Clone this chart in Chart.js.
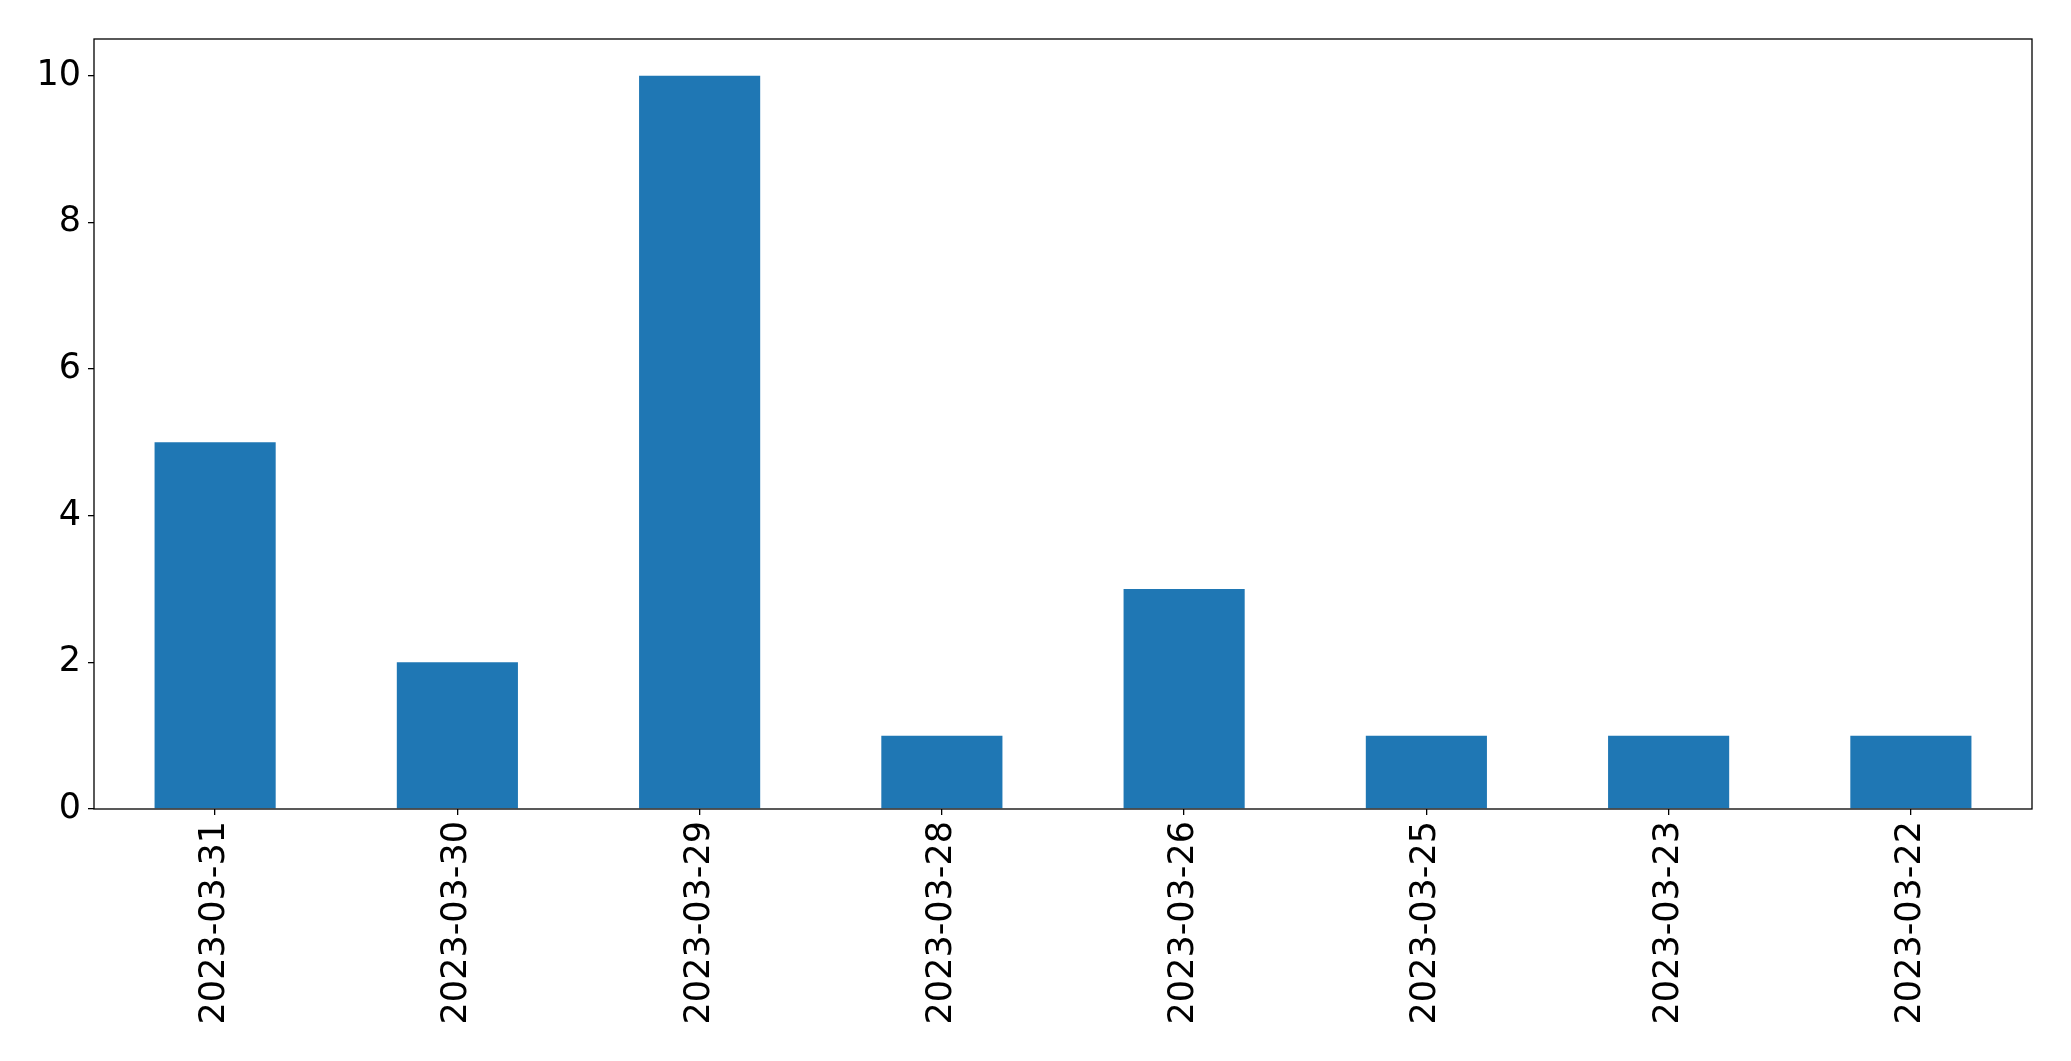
<!DOCTYPE html>
<html>
<head>
<meta charset="utf-8">
<script src="https://cdn.jsdelivr.net/npm/chart.js@4"></script>
<style>
  html, body { margin: 0; padding: 0; background: #fff; }
  #wrap { width: 2071px; height: 1061px; }
</style>
</head>
<body>
<div id="wrap"><canvas id="chart"></canvas></div>
<script>
const dates = ['2023-03-31', '2023-03-30', '2023-03-29', '2023-03-28',
  '2023-03-26', '2023-03-25', '2023-03-23', '2023-03-22'];
const counts = [5, 2, 10, 1, 3, 1, 1, 1];
const yTicks = [0, 2, 4, 6, 8, 10];

const font = { family: 'DejaVu Sans', size: 35 };

// matplotlib-style box round the plot area
const frame = {
  id: 'frame',
  afterDatasetsDraw(chart) {
    const { ctx, chartArea: a } = chart;
    ctx.save();
    ctx.strokeStyle = '#000';
    ctx.lineWidth = 1.3;
    ctx.strokeRect(a.left, a.top, a.right - a.left, a.bottom - a.top);
    ctx.restore();
  },
};

new Chart(document.getElementById('chart'), {
  type: 'bar',
  data: {
    labels: dates,
    datasets: [{
      data: counts,
      backgroundColor: '#1f77b4',
      borderWidth: 0,
      barPercentage: 0.5,
      categoryPercentage: 1,
    }],
  },
  options: {
    responsive: true,
    maintainAspectRatio: false,
    animation: false,
    events: [],
    layout: { padding: { left: 0, top: 39, right: 39, bottom: 0 } },
    plugins: {
      legend: { display: false },
      tooltip: { enabled: false },
    },
    scales: {
      x: {
        offset: true,
        border: { display: false },
        grid: {
          offset: false,
          drawOnChartArea: false,
          color: '#000',
          lineWidth: 1.3,
          tickLength: 6,
        },
        ticks: {
          color: '#000',
          font: font,
          minRotation: 90,
          maxRotation: 90,
          autoSkip: false,
          padding: 6,
        },
        afterFit(scale) { scale.height = 252; },
      },
      y: {
        min: 0,
        max: 10.5,
        border: { display: false },
        grid: {
          drawOnChartArea: false,
          color: '#000',
          lineWidth: 1.3,
          tickLength: 6,
        },
        ticks: {
          color: '#000',
          font: font,
          padding: 7,
        },
        afterBuildTicks(scale) { scale.ticks = yTicks.map(v => ({ value: v })); },
        afterFit(scale) { scale.width = 94; },
      },
    },
  },
  plugins: [frame],
});
</script>
</body>
</html>
